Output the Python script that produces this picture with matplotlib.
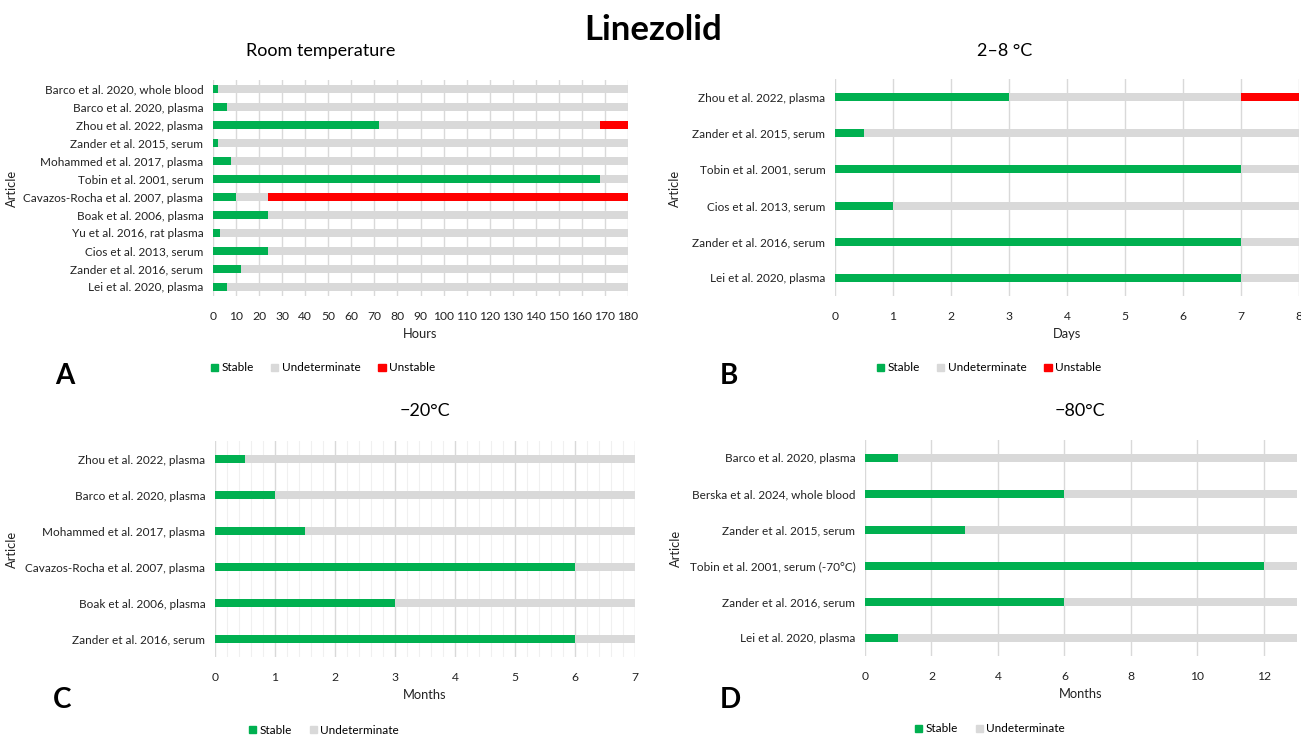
import numpy as np
import matplotlib
matplotlib.use("Agg")
import matplotlib.pyplot as plt
from matplotlib.patches import Patch

plt.rcParams["font.family"] = ["Lato", "DejaVu Sans"]

GREEN = "#00B050"
GREY = "#D9D9D9"
RED = "#FF0000"

# Room temperature (hours), top to bottom
a_labels = [
    "Barco et al. 2020, whole blood", "Barco et al. 2020, plasma",
    "Zhou et al. 2022, plasma", "Zander et al. 2015, serum",
    "Mohammed et al. 2017, plasma", "Tobin et al. 2001, serum",
    "Cavazos-Rocha et al. 2007, plasma", "Boak et al. 2006, plasma",
    "Yu et al. 2016, rat plasma", "Cios et al. 2013, serum",
    "Zander et al. 2016, serum", "Lei et al. 2020, plasma",
]
a_stable = [2, 6, 72, 2, 8, 168, 10, 24, 3, 24, 12, 6]
a_undet = [178, 174, 96, 178, 172, 12, 14, 156, 177, 156, 168, 174]
a_unstable = [0, 0, 12, 0, 0, 0, 156, 0, 0, 0, 0, 0]

# 2-8 °C (days)
b_labels = [
    "Zhou et al. 2022, plasma", "Zander et al. 2015, serum",
    "Tobin et al. 2001, serum", "Cios et al. 2013, serum",
    "Zander et al. 2016, serum", "Lei et al. 2020, plasma",
]
b_stable = [3, 0.5, 7, 1, 7, 7]
b_undet = [4, 7.5, 1, 7, 1, 1]
b_unstable = [1, 0, 0, 0, 0, 0]

# -20 °C (months)
c_labels = [
    "Zhou et al. 2022, plasma", "Barco et al. 2020, plasma",
    "Mohammed et al. 2017, plasma", "Cavazos-Rocha et al. 2007, plasma",
    "Boak et al. 2006, plasma", "Zander et al. 2016, serum",
]
c_stable = [0.5, 1, 1.5, 6, 3, 6]
c_undet = [6.5, 6, 5.5, 1, 4, 1]

# -80 °C (months)
d_labels = [
    "Barco et al. 2020, plasma", "Berska et al. 2024, whole blood",
    "Zander et al. 2015, serum", "Tobin et al. 2001, serum (-70°C)",
    "Zander et al. 2016, serum", "Lei et al. 2020, plasma",
]
d_stable = [1, 6, 3, 12, 6, 1]
d_undet = [12, 7, 10, 1, 7, 12]

W, H = 1301, 737
fig = plt.figure(figsize=(W / 100, H / 100), dpi=100)


def px_axes(left, top, right, bottom):
    return fig.add_axes([left / W, 1 - bottom / H, (right - left) / W, (bottom - top) / H])


def panel(ax, labels, stable, undet, unstable, xmax, step, xlabel, bar_h, minor=None):
    y = np.arange(len(labels))
    ax.barh(y, stable, height=bar_h, color=GREEN, zorder=3)
    ax.barh(y, undet, left=stable, height=bar_h, color=GREY, zorder=3)
    if unstable is not None:
        ax.barh(y, unstable, left=np.add(stable, undet), height=bar_h, color=RED, zorder=3)
    ax.set_yticks(y)
    ax.set_yticklabels(labels, fontsize=8.5, color="#222222")
    ax.set_ylim(len(labels) - 0.5, -0.5)
    ax.set_xlim(0, xmax)
    ax.set_xticks(np.arange(0, xmax + 0.001, step))
    ax.tick_params(axis="x", length=0, pad=11, labelsize=8.7, labelcolor="#222222")
    ax.tick_params(axis="y", length=0, pad=7)
    if minor is not None:
        ax.set_xticks(np.arange(0, xmax + 0.001, minor), minor=True)
        ax.tick_params(axis="x", which="minor", length=0)
        ax.grid(axis="x", which="minor", color="#F0F0F0", linewidth=0.8, zorder=0)
    ax.grid(axis="x", which="major", color=GREY, linewidth=1.0, zorder=1)
    for s in ax.spines.values():
        s.set_visible(False)
    ax.set_xlabel(xlabel, fontsize=9.3, labelpad=4, color="#222222")


ax_a = px_axes(213, 80, 628, 296)
panel(ax_a, a_labels, a_stable, a_undet, a_unstable, 180, 10, "Hours", 0.4)

ax_b = px_axes(835, 79, 1299, 296)
panel(ax_b, b_labels, b_stable, b_undet, b_unstable, 8, 1, "Days", 0.22)

ax_c = px_axes(215, 441, 635, 657)
panel(ax_c, c_labels, c_stable, c_undet, None, 7, 1, "Months", 0.22, minor=0.2)

ax_d = px_axes(865, 440, 1297, 656)
panel(ax_d, d_labels, d_stable, d_undet, None, 13, 2, "Months", 0.22)

for x, y in [(12, 188), (675, 188), (12, 549), (676, 548)]:
    fig.text(x / W, 1 - y / H, "Article", fontsize=9.3, rotation=90, ha="center", va="center",
             color="#222222")

fig.text(653 / W, 1 - 30 / H, "Linezolid", fontsize=25, fontweight="bold", ha="center", va="center")
fig.text(321 / W, 1 - 51 / H, "Room temperature", fontsize=13, ha="center", va="center")
fig.text(1005 / W, 1 - 51 / H, "2–8 °C", fontsize=13, ha="center", va="center")
fig.text(425 / W, 1 - 411 / H, "−20°C", fontsize=13, ha="center", va="center")
fig.text(1080 / W, 1 - 411 / H, "−80°C", fontsize=13, ha="center", va="center")

for letter, x, y in [("A", 65, 376), ("B", 729, 376), ("C", 62, 700), ("D", 730, 700)]:
    fig.text(x / W, 1 - y / H, letter, fontsize=20, fontweight="bold", ha="center", va="center")

h3 = [Patch(color=GREEN, label="Stable"), Patch(color=GREY, label="Undeterminate"),
      Patch(color=RED, label="Unstable")]
for handles, x, y in [(h3, 323, 368), (h3, 989, 368), (h3[:2], 324, 730), (h3[:2], 990, 729)]:
    fig.legend(handles=handles, loc="center", bbox_to_anchor=(x / W, 1 - y / H), ncol=len(handles),
               frameon=False, fontsize=8.5, handlelength=0.6, handleheight=0.6,
               handletextpad=0.3, columnspacing=1.5, borderpad=0.1)

fig.savefig("out.png", dpi=100)
